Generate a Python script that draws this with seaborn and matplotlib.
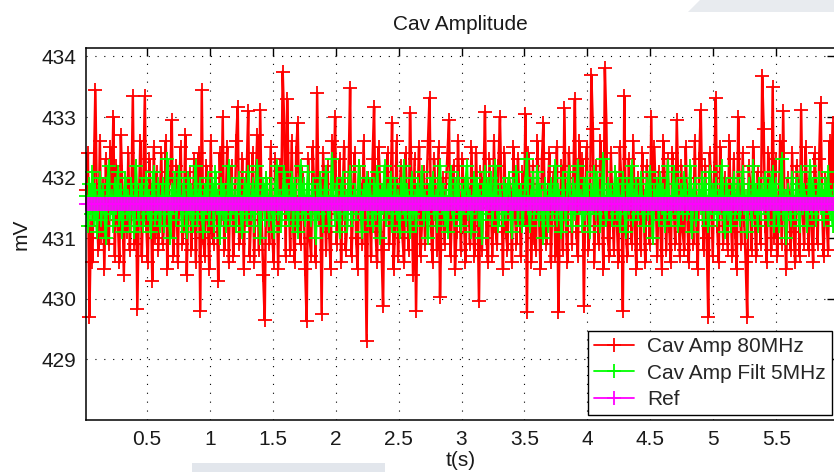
import numpy as np
import pandas as pd
import matplotlib
matplotlib.use("Agg")
import matplotlib.pyplot as plt
from matplotlib.patches import Polygon
import seaborn as sns

# ---------------- data ----------------
t_start, t_end = 0.02, 5.96

cav_amp_80mhz = [
    431.8, 432.4, 429.70, 431.2, 430.6, 432.1, 433.45, 431.5, 430.8, 432.6,
    431.0, 431.9, 430.5, 432.3, 431.4, 430.9, 432.5, 431.7, 433.00, 430.7,
    432.2, 431.3, 430.6, 432.7, 431.8, 430.4, 432.0, 431.1, 432.4, 430.8,
    431.6, 433.34, 430.9, 432.2, 429.83, 431.5, 432.6, 430.7, 431.9, 433.34,
    431.2, 430.6, 432.3, 431.7, 430.3, 432.5, 431.0, 432.1, 430.8, 431.6,
    432.4, 430.9, 431.3, 432.6, 430.5, 431.8, 432.0, 432.95, 430.7, 431.4,
    432.2, 430.6, 431.9, 432.5, 430.9, 431.2, 432.7, 430.4, 431.7, 432.1,
    430.8, 431.5, 432.3, 430.6, 431.9, 432.4, 429.80, 433.45, 431.0, 430.7,
    432.2, 431.4, 430.5, 432.6, 431.1, 430.9, 432.0, 431.7, 430.3, 432.4,
    431.3, 433.00, 430.8, 431.6, 432.5, 430.6, 431.9, 432.2, 430.7, 431.4,
    432.6, 433.17, 430.9, 431.2, 432.3, 430.5, 431.8, 432.1, 433.10, 430.7,
    431.5, 432.4, 430.6, 431.9, 432.7, 430.8, 433.12, 431.3, 430.4, 429.65,
    432.0, 431.6, 430.9, 432.5, 431.1, 430.6, 432.3, 431.8, 430.5, 432.2,
    431.4, 433.75, 432.9, 430.7, 433.30, 431.9, 430.8, 432.6, 431.2, 430.6,
    432.4, 432.90, 431.5, 430.9, 432.1, 431.7, 430.5, 429.63, 432.3, 431.0,
    430.7, 432.5, 431.8, 430.6, 433.40, 431.3, 432.0, 429.75, 432.4, 431.6,
    430.8, 432.2, 431.1, 430.5, 432.6, 431.9, 433.00, 430.9, 431.4, 432.3,
    430.6, 431.7, 432.5, 430.8, 431.2, 432.1, 433.48, 430.7, 431.6, 432.4,
    431.0, 430.5, 432.2, 431.8, 430.9, 432.6, 431.3, 429.31, 432.0, 431.5,
    430.7, 432.3, 433.17, 431.1, 430.6, 432.5, 431.9, 430.8, 429.88, 432.1,
    431.4, 432.4, 430.9, 431.7, 432.90, 430.5, 431.2, 432.6, 430.7, 431.8,
    432.2, 431.0, 430.6, 432.4, 431.5, 430.8, 433.07, 431.9, 430.4, 432.3,
    429.80, 431.6, 432.5, 430.7, 431.3, 432.1, 430.9, 431.8, 432.6, 433.32,
    431.2, 430.6, 432.3, 431.7, 430.8, 432.5, 430.03, 431.4, 432.0, 430.9,
    431.9, 432.4, 432.95, 430.7, 431.5, 432.2, 430.5, 431.1, 432.6, 431.6,
    430.8, 432.3, 431.3, 430.6, 432.0, 431.8, 430.9, 432.5, 431.2, 430.7,
    432.4, 431.6, 429.96, 432.1, 430.8, 431.9, 433.09, 431.0, 430.6, 432.3,
    431.5, 430.7, 432.6, 431.2, 430.9, 432.2, 433.00, 431.7, 430.5, 432.4,
    431.1, 430.8, 432.0, 431.8, 430.6, 432.5, 431.4, 430.9, 432.3, 431.6,
    430.7, 432.1, 431.3, 433.05, 429.78, 432.4, 431.9, 430.6, 432.2, 431.0,
    430.8, 432.6, 431.5, 430.5, 432.3, 432.90, 431.2, 430.9, 431.8, 432.4,
    430.6, 431.7, 432.1, 430.7, 432.5, 429.78, 431.4, 432.2, 430.8, 433.15,
    431.3, 430.6, 432.4, 431.9, 430.9, 432.0, 433.29, 431.1, 430.7, 432.6,
    431.5, 432.3, 429.88, 431.8, 432.5, 430.8, 431.2, 433.70, 432.8, 430.6,
    432.2, 431.4, 430.9, 432.6, 431.7, 430.5, 433.81, 432.9, 431.0, 430.7,
    432.4, 431.6, 430.8, 432.1, 431.3, 430.6, 432.5, 431.9, 429.80, 433.34,
    431.1, 430.7, 432.3, 431.5, 430.9, 432.6, 431.2, 430.5, 432.0, 431.8,
    430.8, 432.4, 431.4, 430.6, 432.2, 431.7, 430.9, 433.00, 431.0, 432.5,
    431.6, 430.7, 432.1, 431.3, 430.5, 432.6, 431.9, 430.8, 432.3, 431.2,
    430.6, 432.4, 431.5, 430.9, 432.95, 431.8, 430.7, 432.2, 431.1, 430.8,
    432.5, 431.4, 430.6, 432.0, 431.7, 430.9, 432.6, 431.3, 430.5, 432.3,
    433.12, 431.6, 430.8, 432.2, 431.0, 429.70, 432.4, 431.9, 430.7, 432.1,
    433.31, 431.2, 430.6, 432.5, 431.8, 430.9, 432.0, 431.4, 430.8, 432.6,
    431.5, 430.7, 432.3, 431.1, 430.5, 433.00, 431.7, 430.9, 432.4, 431.3,
    430.6, 429.70, 432.2, 431.9, 430.8, 432.5, 431.4, 430.7, 432.1, 431.6,
    430.9, 433.67, 432.8, 431.2, 430.6, 432.4, 431.8, 430.8, 433.50, 431.0,
    432.3, 430.7, 431.5, 432.6, 430.9, 433.10, 431.3, 430.5, 432.0, 431.7,
    430.8, 432.4, 431.1, 430.6, 432.2, 431.9, 430.7, 433.12, 431.4, 430.9,
    432.5, 431.6, 430.8, 432.1, 431.2, 430.6, 432.4, 431.8, 430.9, 432.3,
    433.23, 431.5, 430.7, 432.0, 431.3, 430.8, 432.6, 431.7, 432.90, 431.2,
]

cav_amp_filt_5mhz = [
    431.7, 431.2, 431.9, 431.4, 432.1, 431.3, 431.8, 431.1, 431.6, 432.0,
    431.3, 431.8, 431.5, 431.0, 431.9, 432.2, 431.4, 431.7, 431.2, 431.9,
    431.5, 432.1, 431.3, 431.8, 431.1, 431.6, 432.0, 431.4, 431.7, 431.2,
    431.9, 431.5, 431.1, 432.2, 431.6, 431.3, 431.8, 431.9, 431.2, 431.6,
    432.0, 431.4, 431.7, 431.1, 431.8, 432.1, 431.3, 431.5, 431.9, 431.2,
    431.6, 431.9, 431.2, 431.7, 432.3, 431.4, 431.0, 431.8, 431.5, 432.0,
    431.3, 431.7, 432.1, 431.5, 431.2, 431.9, 431.6, 431.1, 432.0, 431.4,
    431.8, 431.2, 431.6, 432.2, 431.3, 431.7, 431.9, 431.4, 431.1, 431.8,
    431.5, 432.0, 431.3, 431.6, 431.9, 431.2, 432.1, 431.5, 431.7, 431.0,
    431.9, 431.4, 431.8, 431.2, 431.6, 432.2, 431.3, 431.9, 431.5, 431.7,
    431.2, 431.8, 432.0, 431.4, 431.1, 431.7, 431.9, 431.3, 432.1, 431.6,
    431.4, 431.9, 431.2, 431.8, 432.2, 431.5, 431.0, 431.7, 431.9, 431.3,
    432.0, 431.6, 431.3, 431.9, 431.5, 431.1, 431.8, 432.2, 431.4, 431.7,
    431.2, 431.7, 432.1, 431.5, 431.8, 431.3, 431.6, 432.0, 431.2, 431.9,
    431.6, 431.1, 431.8, 432.2, 431.4, 431.9, 431.3, 431.7, 432.1, 431.5,
    431.3, 431.9, 431.6, 431.0, 431.8, 431.4, 432.0, 431.6, 431.2, 431.8,
    432.1, 431.5, 431.2, 431.7, 432.3, 431.6, 431.3, 431.9, 431.5, 431.1,
    431.8, 432.0, 431.4, 431.7, 431.2, 431.9, 432.1, 431.3, 431.6, 431.8,
    431.4, 431.7, 432.2, 431.5, 431.1, 431.8, 431.6, 432.0, 431.3, 431.9,
    431.6, 431.2, 431.9, 431.4, 432.1, 431.7, 431.0, 431.8, 431.5, 432.2,
    431.3, 431.8, 431.5, 432.0, 431.2, 431.6, 431.9, 431.4, 431.7, 431.1,
    431.9, 431.5, 432.2, 431.3, 431.8, 431.6, 431.1, 432.0, 431.4, 431.7,
    431.2, 431.9, 431.6, 431.8, 432.1, 431.3, 431.7, 431.5, 431.0, 431.9,
    431.6, 432.0, 431.4, 431.7, 431.2, 431.9, 432.2, 431.5, 431.8, 431.3,
    431.7, 431.1, 431.8, 432.1, 431.5, 431.3, 431.9, 431.6, 432.0, 431.4,
    431.2, 431.8, 431.5, 431.9, 432.2, 431.4, 431.7, 431.1, 431.6, 432.0,
    431.5, 431.9, 431.3, 431.7, 431.0, 431.8, 432.1, 431.4, 431.9, 431.6,
    432.0, 431.3, 431.7, 432.2, 431.5, 431.2, 431.8, 431.6, 431.3, 431.9,
    431.4, 431.8, 432.0, 431.5, 431.1, 431.9, 431.6, 432.1, 431.3, 431.7,
    431.8, 431.2, 431.6, 431.9, 432.3, 431.5, 431.2, 431.7, 432.0, 431.4,
    431.6, 432.1, 431.3, 431.8, 431.5, 431.0, 431.9, 431.6, 431.2, 431.8,
    431.9, 431.4, 431.7, 432.2, 431.3, 431.8, 431.5, 431.1, 432.0, 431.6,
    431.3, 431.8, 432.1, 431.6, 431.2, 431.9, 431.4, 431.7, 432.2, 431.5,
    431.7, 431.2, 431.9, 431.4, 432.0, 431.6, 431.1, 431.8, 431.5, 432.1,
    431.4, 432.0, 431.6, 431.2, 431.8, 432.3, 431.5, 431.3, 431.9, 431.7,
    431.8, 431.3, 431.7, 432.1, 431.4, 431.9, 431.2, 431.6, 432.0, 431.5,
    431.1, 431.9, 431.5, 431.8, 432.2, 431.3, 431.7, 431.9, 431.4, 431.6,
    432.0, 431.5, 431.2, 431.7, 431.9, 431.4, 432.1, 431.6, 431.0, 431.8,
    431.6, 431.9, 431.3, 432.0, 431.5, 431.8, 431.2, 431.7, 432.2, 431.4,
    431.3, 431.7, 432.1, 431.5, 431.9, 431.2, 431.6, 431.8, 431.4, 432.0,
    431.8, 431.4, 431.6, 432.2, 431.1, 431.7, 431.9, 431.3, 431.6, 431.8,
    431.5, 432.0, 431.3, 431.9, 431.6, 431.2, 432.1, 431.5, 431.8, 431.4,
    431.9, 431.3, 431.7, 431.5, 432.2, 431.6, 431.1, 431.9, 431.4, 431.7,
    431.2, 431.8, 432.0, 431.4, 431.7, 431.9, 431.3, 431.6, 432.1, 431.5,
    431.7, 431.1, 431.9, 431.6, 431.3, 432.2, 431.5, 431.8, 431.2, 431.9,
    431.4, 431.8, 431.5, 432.0, 431.7, 431.3, 431.9, 431.6, 432.1, 431.2,
    431.9, 431.5, 431.2, 431.8, 432.3, 431.4, 431.7, 431.0, 431.8, 431.6,
    431.3, 432.0, 431.6, 431.4, 431.9, 431.7, 431.2, 432.1, 431.5, 431.8,
    431.6, 431.2, 431.8, 432.2, 431.4, 431.9, 431.6, 431.3, 431.7, 432.0,
    431.5, 431.8, 431.3, 431.9, 431.6, 432.1, 431.4, 431.7, 431.2, 431.8,
]

ref_value = 431.57

series_names = ["Cav Amp 80MHz", "Cav Amp Filt 5MHz", "Ref"]
series_colors = ["#ff0000", "#00ff00", "#ff00ff"]

x_ticks = [0.5, 1, 1.5, 2, 2.5, 3, 3.5, 4, 4.5, 5, 5.5]
y_ticks = [429, 430, 431, 432, 433, 434]

# ---------------- build table ----------------
n = len(cav_amp_80mhz)
t = np.linspace(t_start, t_end, n)
df = pd.concat([
    pd.DataFrame({"t": t, "mV": cav_amp_80mhz, "series": series_names[0]}),
    pd.DataFrame({"t": t, "mV": cav_amp_filt_5mhz, "series": series_names[1]}),
    pd.DataFrame({"t": t, "mV": [ref_value] * n, "series": series_names[2]}),
], ignore_index=True)

# ---------------- plot ----------------
sns.set_style("white")
plt.rcParams["font.family"] = ["Liberation Sans", "DejaVu Sans"]

W, H = 834, 472
fig = plt.figure(figsize=(W / 100, H / 100), dpi=100)
fig.patch.set_facecolor("white")

# faint slide-background swooshes
fig.patches.append(Polygon([[700 / W, 1], [1, 1], [1, 1 - 12 / H], [688 / W, 1 - 12 / H]],
                           closed=True, transform=fig.transFigure,
                           facecolor="#e8ebef", edgecolor="none", zorder=-5))
fig.patches.append(Polygon([[192 / W, 0], [385 / W, 0], [385 / W, 9 / H], [192 / W, 9 / H]],
                           closed=True, transform=fig.transFigure,
                           facecolor="#e2e6ec", edgecolor="none", zorder=-5))

ax_l, ax_r, ax_t, ax_b = 86, 835, 48, 420
ax = fig.add_axes([ax_l / W, 1 - ax_b / H, (ax_r - ax_l) / W, (ax_b - ax_t) / H])
ax.set_facecolor("white")

line_widths = [1.8, 1.8, 1.3]
for name, col, lw in zip(series_names, series_colors, line_widths):
    sub = df[df["series"] == name]
    sns.lineplot(data=sub, x="t", y="mV", ax=ax, color=col, marker="+",
                 markersize=10, markeredgewidth=1.3, markeredgecolor=col,
                 markerfacecolor=col, linewidth=lw,
                 estimator=None, sort=False, label=name, clip_on=False)

ax.set_xlim(0.017, 5.967)
ax.set_ylim(428, 434.14)
ax.set_xticks(x_ticks)
ax.set_xticklabels([f"{v:g}" for v in x_ticks])
ax.set_yticks(y_ticks)
ax.set_yticklabels([str(v) for v in y_ticks])

ax.grid(True, color="black", linestyle=(0, (1, 7)), linewidth=0.8)
ax.set_axisbelow(True)
for sp in ax.spines.values():
    sp.set_visible(True)
    sp.set_color("black")
    sp.set_linewidth(1.1)
    sp.set_zorder(10)

ax.tick_params(axis="both", which="both", direction="in", length=6, width=1,
               top=True, right=True, labelsize=15, colors="black", pad=7)
for lab in ax.get_xticklabels() + ax.get_yticklabels():
    lab.set_color("#1a1a1a")

ax.set_title("Cav Amplitude", fontsize=15, pad=13, color="#1a1a1a")
ax.set_xlabel("t(s)", fontsize=15, labelpad=2, color="#1a1a1a")
ax.set_ylabel("mV", fontsize=15, labelpad=8, color="#1a1a1a")

leg = ax.legend(loc="lower right", bbox_to_anchor=(0.996, 0.013), borderaxespad=0,
                fontsize=15, frameon=True, fancybox=False, framealpha=1,
                edgecolor="black", handlelength=1.9, handletextpad=0.65,
                labelspacing=0.35, borderpad=0.3)
leg.get_frame().set_linewidth(1.0)
for h in leg.legend_handles:
    h.set_linewidth(1.3)
leg.set_zorder(20)

fig.savefig("out.png", dpi=100, facecolor=fig.get_facecolor())
